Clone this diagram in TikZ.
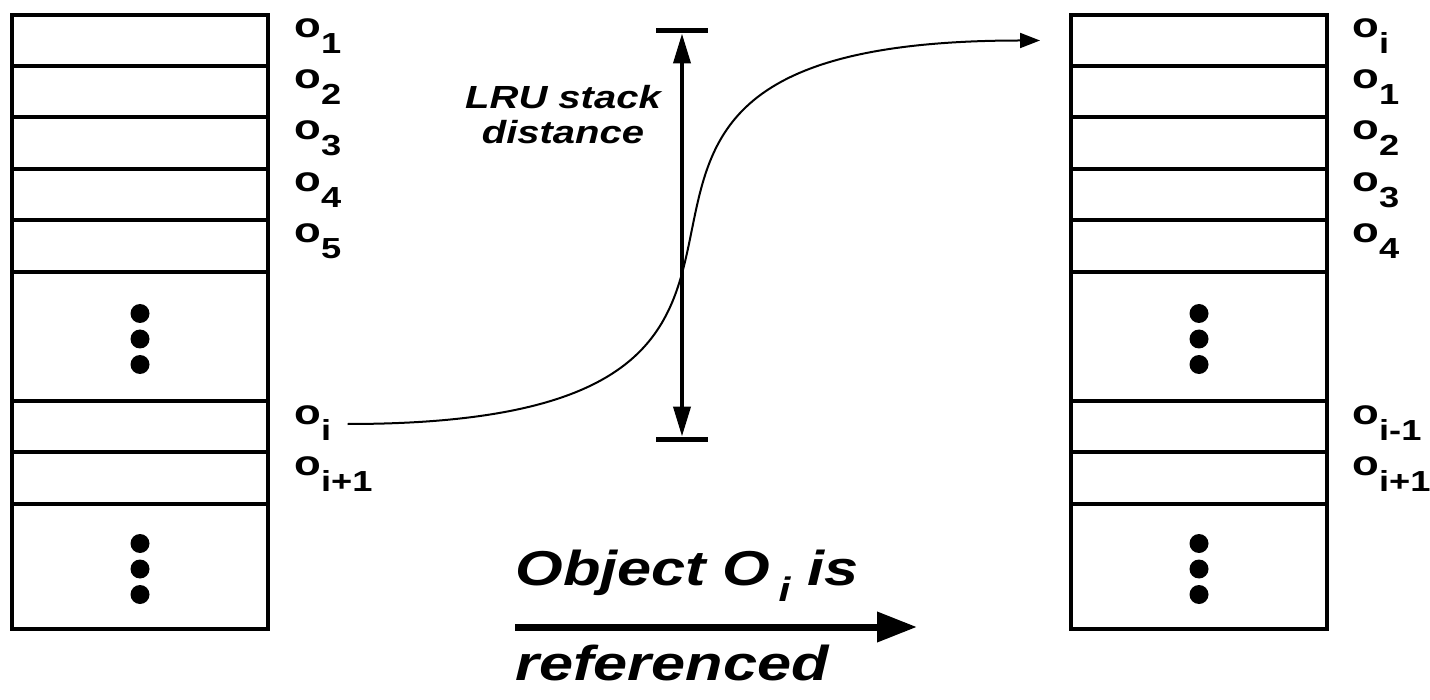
\documentclass[tikz,border=0pt]{standalone}
\usepackage{fontspec}
\setmainfont{Liberation Sans}[FakeStretch=1.25]
\usetikzlibrary{arrows.meta}
\newcommand{\objlbl}[1]{{\fontsize{17.5}{17.5}\selectfont\bfseries o}\raisebox{-8pt}{#1}}

\begin{document}
\begin{tikzpicture}[
    x=0.5pt, y=-0.5pt,
    cell/.style={draw,line width=2pt,minimum width=128pt,inner sep=0pt,outer sep=0pt},
    dot/.style={circle,fill,inner sep=0pt,minimum size=9.5pt},
    lbl/.style={font=\fontsize{14.5}{14.5}\selectfont\bfseries,inner sep=0pt,anchor=base west},
    refline/.style={line width=1pt,-{Triangle[length=10pt,width=7.5pt]}},
    dist/.style={line width=2pt,{Triangle[length=15pt,width=8.5pt]}-{Triangle[length=15pt,width=8.5pt]}},
    bar/.style={line width=2.5pt},
    move/.style={line width=3.5pt,-{Triangle[length=20pt,width=14.5pt]}},
    big/.style={font=\fontsize{24.5}{24.5}\selectfont\bfseries\itshape,inner sep=0pt,anchor=base west},
  ]
  \useasboundingbox (0,0) rectangle (1430,700);

  % the two stacks: L before, R after the reference
  \foreach \s/\x in {L/140,R/1199}
    \foreach \n/\ya/\yb in {a/15/66,b/66/117,c/117/169,d/169/220,e/220/272,
                            f/272/401,g/401/452,h/452/504,k/504/629}
      \node[cell,minimum height={(\yb-\ya)*0.5pt}] (\s\n) at (\x,{(\ya+\yb)/2}) {};

  % vertical ellipses
  \foreach \s in {L,R}
    \foreach \c in {f,k} {
      \node[dot] (\s\c1) at ([yshift=11.5pt]\s\c.center) {};
      \node[dot] (\s\c2) at ([yshift=-1.25pt]\s\c.center) {};
      \node[dot] (\s\c3) at ([yshift=-14pt]\s\c.center) {};
    }

  % object labels
  \foreach \n/\t in {a/1,b/2,c/3,d/4,e/5,g/i,h/i+1}
    \node[lbl] (lab\n) at ([xshift=13pt,yshift=-11.5pt]L\n.north east) {\objlbl{\t}};
  \foreach \n/\t in {a/i,b/1,c/2,d/3,e/4,g/i-1,h/i+1}
    \node[lbl] (rab\n) at ([xshift=12.5pt,yshift=-11.5pt]R\n.north east) {\objlbl{\t}};

  % O_i moves to the top
  \draw[refline] ([xshift=8pt]labg.base east) .. controls +(605,0) and +(-605,0) .. ([xshift=-15.5pt]Ra.west);

  % stack distance
  \coordinate (dtop) at (682,31);
  \coordinate (dbot) at (682,439);
  \draw[bar] ([xshift=-13pt]dtop) -- ([xshift=13pt]dtop);
  \draw[bar] ([xshift=-13pt]dbot) -- ([xshift=13pt]dbot);
  \draw[dist] ([yshift=-1.25pt]dtop) -- ([yshift=1.25pt]dbot);
  \node[font=\fontsize{16}{17.5}\selectfont\bfseries\itshape,align=center,inner sep=0pt] (lru) at (563,115) {LRU stack\\distance};

  % caption arrow
  \node[big] (objtxt) at (515,585) {Object O\kern4pt\raisebox{-8pt}{\fontsize{17}{17}\selectfont i} is};
  \coordinate (mvs) at (515,627);
  \coordinate (mve) at (917,627);
  \draw[move] (mvs) -- (mve);
  \node[big] (reftxt) at (515,680) {referenced};

\end{tikzpicture}
\end{document}
